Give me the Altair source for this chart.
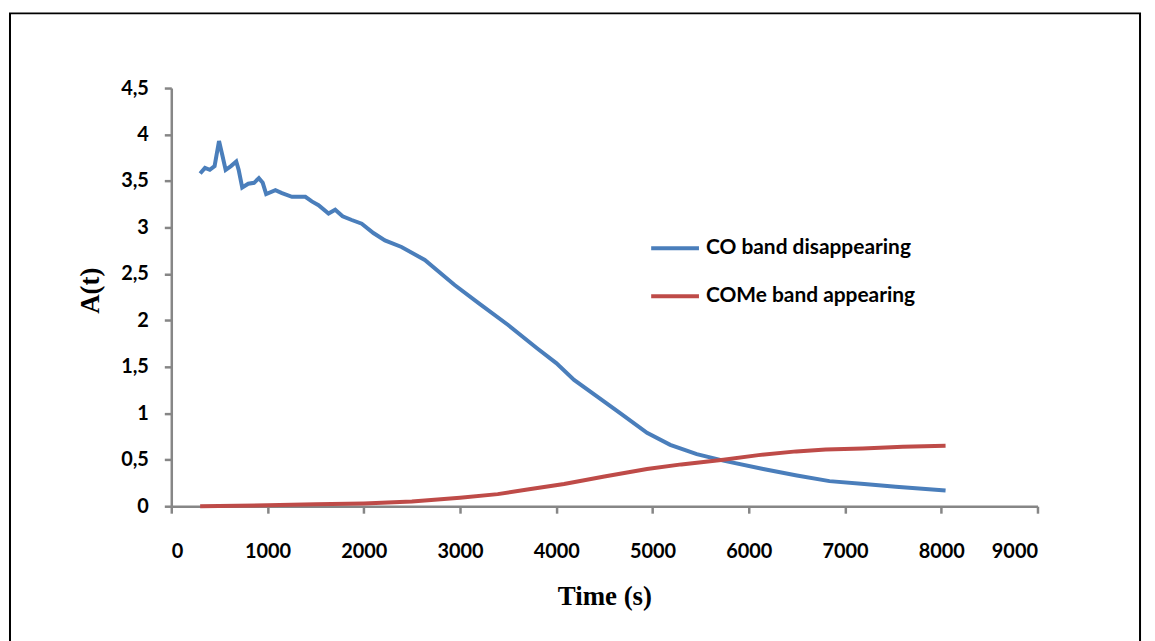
import altair as alt
import pandas as pd

blue_x = [300, 350, 400, 450, 496, 530, 565, 620, 675, 700, 737, 800, 860, 910, 950, 986,
          1082, 1150, 1254, 1393, 1460, 1530, 1634, 1703, 1780, 1875, 1979, 2100, 2220, 2392,
          2634, 2944, 3200, 3500, 3800, 4000, 4185, 4426, 4667, 4943, 5184, 5460, 5736, 6150,
          6500, 6839, 7200, 7528, 8045]
blue_y = [3.58, 3.64, 3.62, 3.66, 3.93, 3.78, 3.62, 3.66, 3.71, 3.62, 3.43, 3.47, 3.48, 3.53,
          3.48, 3.36, 3.40, 3.37, 3.33, 3.33, 3.28, 3.24, 3.15, 3.19, 3.12, 3.08, 3.04, 2.94,
          2.86, 2.79, 2.65, 2.38, 2.18, 1.95, 1.70, 1.54, 1.36, 1.18, 1.00, 0.79, 0.66, 0.56,
          0.49, 0.40, 0.33, 0.27, 0.24, 0.21, 0.17]
red_x = [300, 1000, 1500, 2000, 2500, 3000, 3392, 3700, 4081, 4500, 4943, 5300, 5736, 6100,
         6494, 6800, 7184, 7600, 8045]
red_y = [0.0, 0.01, 0.02, 0.03, 0.05, 0.09, 0.13, 0.18, 0.24, 0.32, 0.40, 0.45, 0.50, 0.55,
         0.59, 0.61, 0.62, 0.64, 0.65]
series_names = ["CO band disappearing", "COMe band appearing"]
series_colors = ["#4a7ebb", "#be4b48"]
x_ticks = [0, 1000, 2000, 3000, 4000, 5000, 6000, 7000, 8000, 9000]
y_ticks = [0, 0.5, 1, 1.5, 2, 2.5, 3, 3.5, 4, 4.5]

df = pd.concat([
    pd.DataFrame({"t": blue_x, "a": blue_y, "s": series_names[0], "o": range(len(blue_x))}),
    pd.DataFrame({"t": red_x, "a": red_y, "s": series_names[1], "o": range(len(red_x))}),
])

label_font = "Lato"
title_font = "Liberation Serif"

lines = alt.Chart(df).mark_line(strokeWidth=4).encode(
    x=alt.X("t:Q", scale=alt.Scale(domain=[0, 9000], nice=False),
            axis=alt.Axis(values=x_ticks, title="Time (s)", format="d",
                          labelPadding=29, titleY=91, titleBaseline="middle",
                          titleFont=title_font, titleFontSize=27)),
    y=alt.Y("a:Q", scale=alt.Scale(domain=[0, 4.5], nice=False),
            axis=alt.Axis(values=y_ticks, title="A(t)",
                          labelExpr="replace(format(datum.value, '~g'), '.', ',')",
                          labelPadding=16, titleX=-81, titleY=203, titleAngle=270,
                          titleAlign="center", titleBaseline="middle",
                          titleFont=title_font, titleFontSize=27)),
    color=alt.Color("s:N", scale=alt.Scale(domain=series_names, range=series_colors),
                    legend=alt.Legend(title=None, orient="none", legendX=480, legendY=135,
                                      symbolType="stroke", symbolSize=2304,
                                      symbolStrokeWidth=4, rowPadding=12, labelLimit=0,
                                      labelFont=label_font, labelFontSize=21,
                                      labelFontWeight="bold", labelColor="black",
                                      labelOffset=5)),
    order="o:Q",
)

border = alt.Chart(pd.DataFrame({"k": [0]})).mark_rect(
    fill=None, stroke="black", strokeWidth=2, clip=False
).encode(x=alt.value(-162), x2=alt.value(973), y=alt.value(-75), y2=alt.value(560))

chart = alt.layer(border, lines).properties(
    width=870, height=420,
    padding={"left": 164, "top": 79, "right": 110, "bottom": 140},
    autosize="none",
).configure_view(stroke=None).configure_axis(
    grid=False, domainColor="#868686", domainWidth=2.5, tickColor="#868686",
    tickWidth=2.5, tickSize=7, labelFont=label_font, labelFontSize=20,
    labelFontWeight="bold", labelColor="black", titleColor="black", titleFontWeight="bold",
)

chart.save("out.html", embed_options={"renderer": "svg", "actions": False})
